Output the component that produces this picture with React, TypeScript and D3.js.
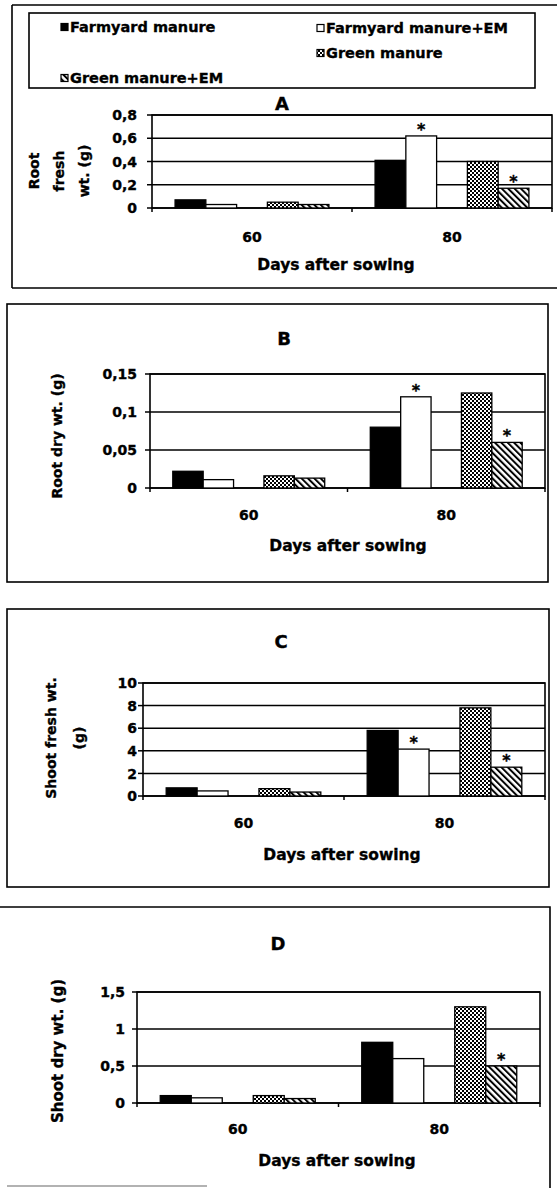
import React from 'react';
import * as d3 from 'd3';

// ---------- data ----------
const categories = ['60', '80'];
const seriesNames = ['Farmyard manure', 'Farmyard manure+EM', 'Green manure', 'Green manure+EM'];
const seriesKeys = ['fm', 'fmem', 'gm', 'gmem'];
const slotKeys = ['fm', 'fmem', 'empty', 'gm', 'gmem'];

// A: Root fresh wt. (g)
const rootFreshFM = [0.07, 0.41];
const rootFreshFMEM = [0.03, 0.62];
const rootFreshGM = [0.05, 0.4];
const rootFreshGMEM = [0.03, 0.17];
const rootFreshTicks = [0, 0.2, 0.4, 0.6, 0.8];
const rootFreshTickLabels = ['0', '0,2', '0,4', '0,6', '0,8'];
const rootFreshStars = [['fmem', '80'], ['gmem', '80']];

// B: Root dry wt. (g)
const rootDryFM = [0.022, 0.08];
const rootDryFMEM = [0.011, 0.12];
const rootDryGM = [0.016, 0.125];
const rootDryGMEM = [0.013, 0.06];
const rootDryTicks = [0, 0.05, 0.1, 0.15];
const rootDryTickLabels = ['0', '0,05', '0,1', '0,15'];
const rootDryStars = [['fmem', '80'], ['gmem', '80']];

// C: Shoot fresh wt. (g)
const shootFreshFM = [0.72, 5.8];
const shootFreshFMEM = [0.45, 4.15];
const shootFreshGM = [0.65, 7.8];
const shootFreshGMEM = [0.35, 2.55];
const shootFreshTicks = [0, 2, 4, 6, 8, 10];
const shootFreshTickLabels = ['0', '2', '4', '6', '8', '10'];
const shootFreshStars = [['fmem', '80'], ['gmem', '80']];

// D: Shoot dry wt. (g)
const shootDryFM = [0.1, 0.82];
const shootDryFMEM = [0.07, 0.6];
const shootDryGM = [0.1, 1.3];
const shootDryGMEM = [0.06, 0.5];
const shootDryTicks = [0, 0.5, 1, 1.5];
const shootDryTickLabels = ['0', '0,5', '1', '1,5'];
const shootDryStars = [['gmem', '80']];

const xAxisTitle = 'Days after sowing';

// ---------- styling ----------
const FONT = '"DejaVu Sans", Verdana, sans-serif';
const TS = { fontFamily: FONT, fontWeight: 'bold' as const, stroke: '#000', strokeWidth: 0.35 };
const fills: Record<string, string> = {
  fm: '#000',
  fmem: '#fff',
  gm: 'url(#dots)',
  gmem: 'url(#hatch)',
};

type PanelProps = {
  title: string;
  titleX: number;
  titleY: number;
  x0: number;
  x1: number;
  yTop: number;
  yBot: number;
  values: number[][];
  ticks: number[];
  tickLabels: string[];
  stars: string[][];
  tickLabelRight: number;
  catLabelY: number;
  axisTitleX: number;
  axisTitleY: number;
  yTitleLines: string[];
  yTitleXs: number[];
  yTitleY: number;
  yTitleSize: number;
};

function Panel(p: PanelProps) {
  const x = d3.scaleBand<string>().domain(categories).range([p.x0, p.x1]).paddingInner(0).paddingOuter(0);
  const sub = d3
    .scaleBand<string>()
    .domain(slotKeys)
    .range([0, x.bandwidth()])
    .paddingInner(0)
    .paddingOuter(0.75);
  const y = d3
    .scaleLinear()
    .domain([0, p.ticks[p.ticks.length - 1]])
    .range([p.yBot, p.yTop]);
  const fs = 14;
  const boundaries = [p.x0, ...categories.slice(1).map((c) => x(c) as number), p.x1];
  return (
    <g>
      <text x={p.titleX} y={p.titleY} textAnchor="middle" {...TS} fontSize={18}>
        {p.title}
      </text>
      {p.ticks.map((t) => (
        <line key={'g' + t} x1={p.x0} x2={p.x1} y1={y(t)} y2={y(t)} stroke="#000" strokeWidth={1.5} />
      ))}
      <rect x={p.x0} y={p.yTop} width={p.x1 - p.x0} height={p.yBot - p.yTop} fill="none" stroke="#000" strokeWidth={1.6} />
      {p.ticks.map((t, i) => (
        <g key={'t' + t}>
          <line x1={p.x0 - 5} x2={p.x0} y1={y(t)} y2={y(t)} stroke="#000" strokeWidth={1.5} />
          <text x={p.tickLabelRight} y={y(t) + fs * 0.365} textAnchor="end" {...TS} fontSize={fs}>
            {p.tickLabels[i]}
          </text>
        </g>
      ))}
      {boundaries.map((b, i) => (
        <line key={'xb' + i} x1={b} x2={b} y1={p.yBot} y2={p.yBot + 4} stroke="#000" strokeWidth={1.5} />
      ))}
      {seriesKeys.map((k, si) =>
        categories.map((c, ci) => {
          const v = p.values[si][ci];
          const bx = (x(c) as number) + (sub(k) as number);
          return (
            <rect
              key={k + c}
              x={bx}
              y={y(v)}
              width={sub.bandwidth()}
              height={y(0) - y(v)}
              fill={fills[k]}
              stroke="#000"
              strokeWidth={1.3}
            />
          );
        })
      )}
      {p.stars.map(([k, c]) => {
        const si = seriesKeys.indexOf(k);
        const ci = categories.indexOf(c);
        const v = p.values[si][ci];
        const cx = (x(c) as number) + (sub(k) as number) + sub.bandwidth() / 2;
        return (
          <text key={'s' + k + c} x={cx} y={y(v) - 1} textAnchor="middle" {...TS} fontSize={16}>
            *
          </text>
        );
      })}
      {categories.map((c) => (
        <text
          key={'c' + c}
          x={(x(c) as number) + x.bandwidth() / 2}
          y={p.catLabelY}
          textAnchor="middle"
          {...TS}
          fontSize={fs}
        >
          {c}
        </text>
      ))}
      <text x={p.axisTitleX} y={p.axisTitleY} textAnchor="middle" {...TS} fontSize={15.5}>
        {xAxisTitle}
      </text>
      {p.yTitleLines.map((line, i) => (
        <text
          key={'yt' + i}
          transform={`translate(${p.yTitleXs[i] + p.yTitleSize * 0.3},${p.yTitleY}) rotate(-90)`}
          textAnchor="middle"
          {...TS}
          fontSize={p.yTitleSize}
        >
          {line}
        </text>
      ))}
    </g>
  );
}

function Legend() {
  const rows = [
    { x: 61, y: 27 },
    { x: 317, y: 28 },
    { x: 317, y: 53 },
    { x: 61, y: 78 },
  ];
  return (
    <g>
      <rect x={29} y={13} width={506} height={75} fill="#fff" stroke="#000" strokeWidth={1.6} />
      {seriesKeys.map((k, i) => (
        <g key={k}>
          <rect x={rows[i].x} y={rows[i].y - 3.5} width={7} height={7} fill={fills[k]} stroke="#000" strokeWidth={1.2} />
          <text x={rows[i].x + 9} y={rows[i].y + 5} {...TS} fontSize={14.5}>
            {seriesNames[i]}
          </text>
        </g>
      ))}
    </g>
  );
}

export default function App() {
  return (
    <svg
      width={557}
      height={1188}
      viewBox="0 0 557 1188"
      style={{ position: 'absolute', left: 0, top: 0, display: 'block', background: '#fff' }}
    >
      <defs>
        <pattern id="dots" width={4} height={4} patternUnits="userSpaceOnUse">
          <rect width={4} height={4} fill="#fff" />
          <rect x={0} y={0} width={2} height={2} fill="#000" />
          <rect x={2} y={2} width={2} height={2} fill="#000" />
        </pattern>
        <pattern id="hatch" width={4.5} height={4.5} patternUnits="userSpaceOnUse" patternTransform="rotate(-45)">
          <rect width={4.5} height={4.5} fill="#fff" />
          <rect x={0} y={0} width={2} height={4.5} fill="#000" />
        </pattern>
      </defs>
      <rect width={557} height={1188} fill="#fff" />

      <path d="M12,5 H557 M12,5 V288 M12,288 H557" fill="none" stroke="#000" strokeWidth={1.6} />
      <rect x={7} y={304} width={541} height={278} fill="none" stroke="#000" strokeWidth={1.6} />
      <rect x={7} y={609} width={542} height={278} fill="none" stroke="#000" strokeWidth={1.6} />
      <path d="M0,907 H550 V1188" fill="none" stroke="#000" strokeWidth={1.6} />
      <line x1={7} x2={207} y1={1186} y2={1186} stroke="#999" strokeWidth={1.5} />

      <Legend />

      <Panel
        title="A"
        titleX={282}
        titleY={110}
        x0={152}
        x1={552}
        yTop={115}
        yBot={208}
        values={[rootFreshFM, rootFreshFMEM, rootFreshGM, rootFreshGMEM]}
        ticks={rootFreshTicks}
        tickLabels={rootFreshTickLabels}
        stars={rootFreshStars}
        tickLabelRight={137}
        catLabelY={242}
        axisTitleX={336}
        axisTitleY={270}
        yTitleLines={['Root', 'fresh', 'wt. (g)']}
        yTitleXs={[35, 60, 85]}
        yTitleY={171}
        yTitleSize={14}
      />
      <Panel
        title="B"
        titleX={284}
        titleY={345}
        x0={150}
        x1={545}
        yTop={374}
        yBot={488}
        values={[rootDryFM, rootDryFMEM, rootDryGM, rootDryGMEM]}
        ticks={rootDryTicks}
        tickLabels={rootDryTickLabels}
        stars={rootDryStars}
        tickLabelRight={137}
        catLabelY={520}
        axisTitleX={348}
        axisTitleY={551}
        yTitleLines={['Root dry wt. (g)']}
        yTitleXs={[58]}
        yTitleY={436}
        yTitleSize={14}
      />
      <Panel
        title="C"
        titleX={281}
        titleY={648}
        x0={143}
        x1={545}
        yTop={683}
        yBot={796}
        values={[shootFreshFM, shootFreshFMEM, shootFreshGM, shootFreshGMEM]}
        ticks={shootFreshTicks}
        tickLabels={shootFreshTickLabels}
        stars={shootFreshStars}
        tickLabelRight={137}
        catLabelY={828}
        axisTitleX={342}
        axisTitleY={860}
        yTitleLines={['Shoot fresh wt.', '(g)']}
        yTitleXs={[52, 80]}
        yTitleY={738}
        yTitleSize={14}
      />
      <Panel
        title="D"
        titleX={278}
        titleY={950}
        x0={137}
        x1={540}
        yTop={992}
        yBot={1103}
        values={[shootDryFM, shootDryFMEM, shootDryGM, shootDryGMEM]}
        ticks={shootDryTicks}
        tickLabels={shootDryTickLabels}
        stars={shootDryStars}
        tickLabelRight={125}
        catLabelY={1134}
        axisTitleX={337}
        axisTitleY={1166}
        yTitleLines={['Shoot dry wt. (g)']}
        yTitleXs={[58]}
        yTitleY={1051}
        yTitleSize={15}
      />
    </svg>
  );
}
